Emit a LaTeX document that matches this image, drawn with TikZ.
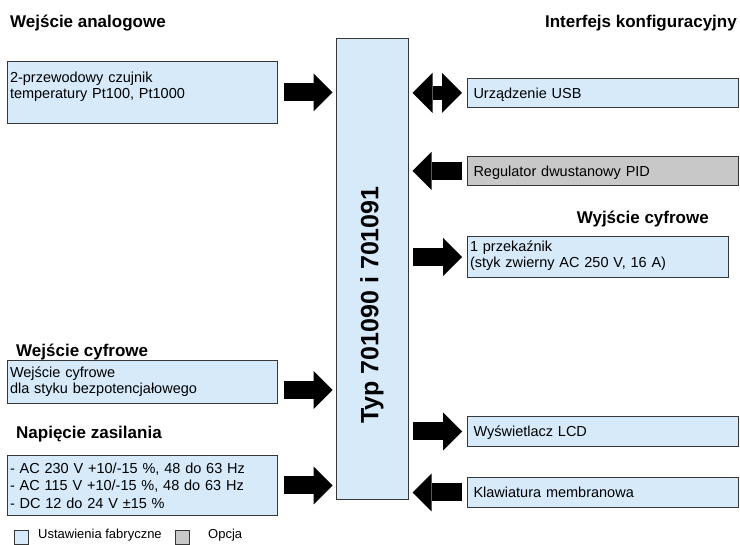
\documentclass[tikz,border=0pt]{standalone}
\usepackage{fontspec}
\setmainfont{Liberation Sans}
\usetikzlibrary{arrows.meta}
\definecolor{jblue}{RGB}{214,234,250}
\definecolor{jgray}{RGB}{200,200,200}
\definecolor{jline}{RGB}{55,55,55}
\begin{document}
\begin{tikzpicture}[x=1pt, y=-1pt]
\tikzset{kasten/.style={draw=jline, line width=1pt, fill=jblue, anchor=north west, align=left, inner xsep=6pt, inner ysep=0pt, font=\fontsize{14.5}{16.5}\selectfont},
opcja/.style={kasten, fill=jgray},
titel/.style={font=\bfseries\fontsize{17}{20}\selectfont, inner sep=0pt},
pfeil/.style={line width=18pt, -{Triangle[width=38pt, length=19pt, line width=0pt]}},
doppelpfeil/.style={line width=14pt, {Triangle[width=40pt, length=20pt, line width=0pt]}-{Triangle[width=40pt, length=20pt, line width=0pt]}},
legende/.style={draw=jline, line width=1pt, minimum size=14pt, inner sep=0pt},
legtext/.style={anchor=base west, inner sep=0pt, font=\fontsize{13}{15}\selectfont}}
\useasboundingbox (0,0) rectangle (740,545);
\node[titel, anchor=base west] (tana) at (10,28) {Wejście analogowe};
\node[titel, anchor=base east] (tkonf) at (737,28) {Interfejs konfiguracyjny};
\node[titel, anchor=base east] (twyj) at (709,224) {Wyjście cyfrowe};
\node[titel, anchor=base west] (twej) at (16,357) {Wejście cyfrowe};
\node[titel, anchor=base west] (tnap) at (16,439) {Napięcie zasilania};
\node[draw=jline, line width=1pt, fill=jblue, minimum width=72pt, minimum height=461pt, inner sep=0pt] (typ) at (372,269.5) {};
\node[font=\bfseries\fontsize{25}{30}\selectfont, rotate=90] (typtxt) at (372,305) {Typ 701090 i 701091};
\node[kasten, inner xsep=2.5pt, text width=265pt, text height=21pt, text depth=41pt] (ana) at (7,61) {2-przewodowy czujnik\\temperatury Pt100, Pt1000};
\node[kasten, inner xsep=2.5pt, text width=265pt, text height=17pt, text depth=26pt] (dig) at (7,360) {Wejście cyfrowe\\dla styku bezpotencjałowego};
\node[kasten, inner xsep=2.5pt, text width=265pt, text height=18pt, text depth=42pt, font=\fontsize{14.5}{17.5}\selectfont] (zas) at (7,455) {- AC 230 V +10/-15 \%, 48 do 63 Hz\\- AC 115 V +10/-15 \%, 48 do 63 Hz\\- DC 12 do 24 V ±15 \%};
\node[kasten, text width=259pt, text height=20pt, text depth=9pt] (usb) at (467,78) {Urządzenie USB};
\node[opcja, text width=259pt, text height=20pt, text depth=9pt] (reg) at (467,156) {Regulator dwustanowy PID};
\node[kasten, inner xsep=2.5pt, text width=256pt, text height=15pt, text depth=26pt] (prz) at (467,236) {1 przekaźnik\\(styk zwierny AC 250 V, 16 A)};
\node[kasten, text width=259pt, text height=20pt, text depth=10pt] (lcd) at (467,416) {Wyświetlacz LCD};
\node[kasten, text width=259pt, text height=20pt, text depth=10pt] (kla) at (467,477) {Klawiatura membranowa};
\draw[pfeil, shorten <=6pt, shorten >=3pt] (ana.east) -- (ana.east -| typ.west);
\draw[pfeil, shorten <=6pt, shorten >=3pt] ([yshift=-8pt]dig.east) -- ([yshift=-8pt]dig.east -| typ.west);
\draw[pfeil, shorten <=6pt, shorten >=3pt] (zas.east) -- (zas.east -| typ.west);
\draw[doppelpfeil, shorten <=4pt, shorten >=5pt] (usb.west -| typ.east) -- (usb.west);
\draw[pfeil, shorten <=5pt, shorten >=4pt] (reg.west) -- (reg.west -| typ.east);
\draw[pfeil, shorten <=4pt, shorten >=5pt] (prz.west -| typ.east) -- (prz.west);
\draw[pfeil, shorten <=4pt, shorten >=5pt] (lcd.west -| typ.east) -- (lcd.west);
\draw[pfeil, shorten <=5pt, shorten >=4pt] (kla.west) -- (kla.west -| typ.east);
\node[legende, fill=jblue] (lfab) at (21,537.5) {};
\node[legtext] (tfab) at (38,539) {Ustawienia fabryczne};
\node[legende, fill=jgray] (lopc) at (182,537.5) {};
\node[legtext] (topc) at (208,539) {Opcja};
\end{tikzpicture}
\end{document}
